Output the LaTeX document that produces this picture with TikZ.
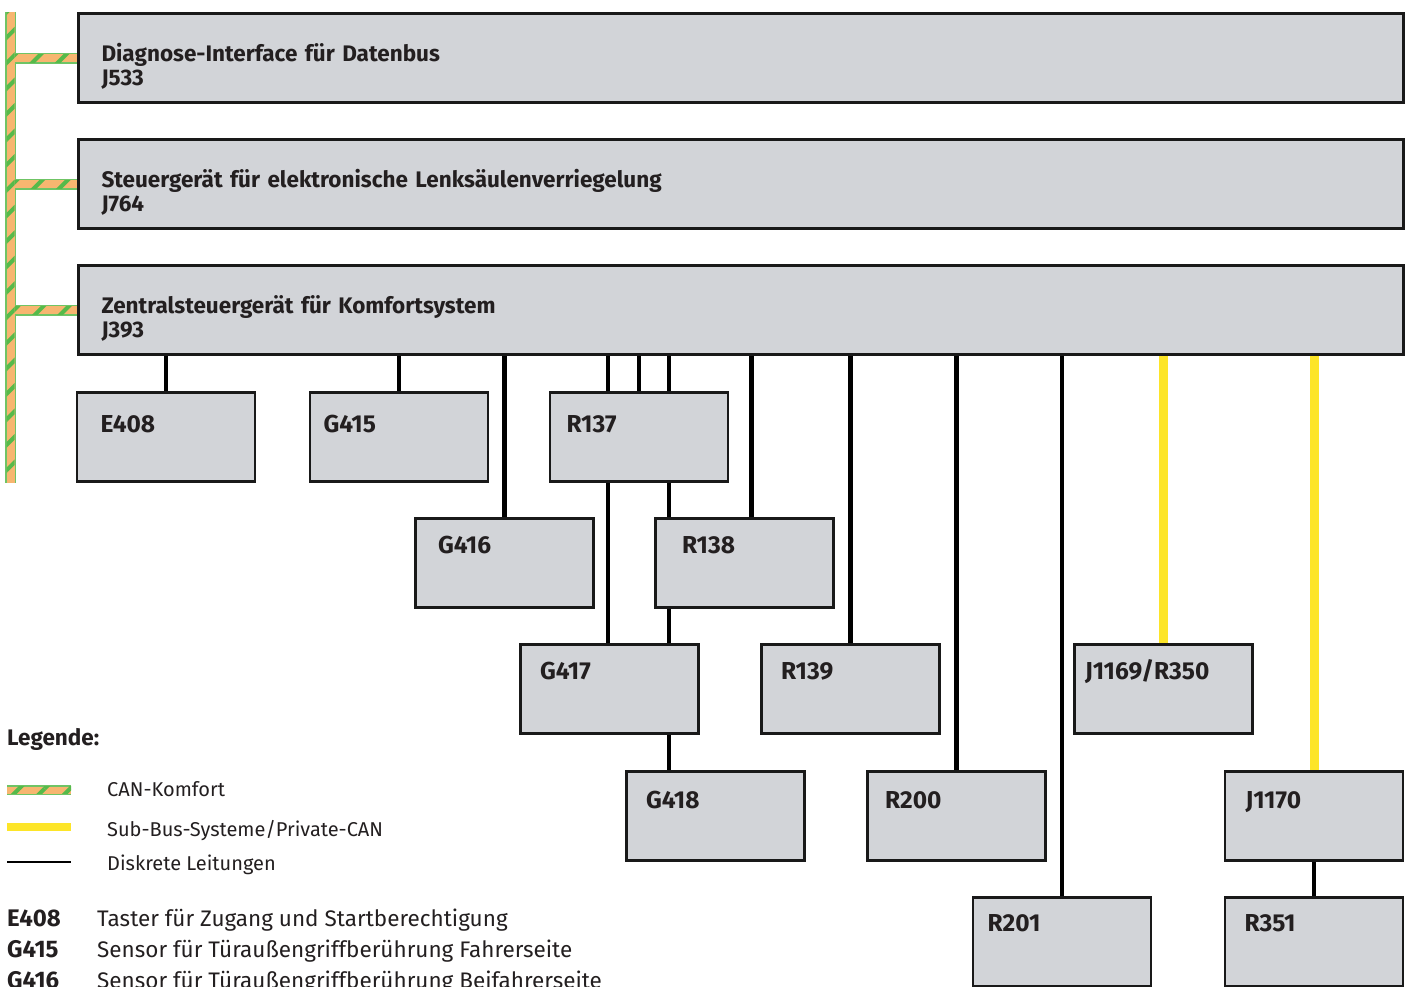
\documentclass[tikz,border=0pt]{standalone}
\usepackage{fontspec}
\setmainfont{Fira Sans}
\usetikzlibrary{calc,backgrounds,patterns.meta}

\definecolor{boxgrau}{RGB}{210,212,216}
\definecolor{schrift}{RGB}{35,31,32}
\definecolor{canorange}{RGB}{247,182,112}
\definecolor{cangruen}{RGB}{86,186,74}
\definecolor{subgelb}{RGB}{253,229,40}

\tikzset{
  kasten/.style={draw=black!90, line width=2.5pt, fill=boxgrau, text=schrift,
    align=left, inner sep=0pt},
  % #1 = Textbreite (Einzug links), #2 = Texthoehe (Abstand oben)
  sg/.style 2 args={kasten, font=\fontsize{24.5}{26}\selectfont\bfseries,
    minimum width=178pt, minimum height=89pt,
    text width=#1pt, text height=#2pt, text depth=40pt},
  sgbreit/.style={kasten, font=\fontsize{22.5}{24}\selectfont\bfseries,
    inner xsep=23pt, text width=1279pt, text height=47.5pt, text depth=41.5pt},
  leitung/.style={line width=4.5pt, draw=black},
  subbus/.style={line width=9pt, draw=subgelb},
  canrand/.style={line width=11pt, draw=cangruen!85},
  cankern/.style={line width=8pt, draw=canorange},
  canstreifen/.style={pattern={Lines[angle=45,distance=18pt,line width=4pt]},
    pattern color=cangruen},
  legtext/.style={anchor=base west, inner sep=0pt, text=schrift,
    font=\fontsize{20}{24}\selectfont},
  legkurz/.style={legtext, font=\fontsize{24}{26}\selectfont\bfseries},
}

\begin{document}
\begin{tikzpicture}[x=1pt,y=-1pt]
\useasboundingbox (0,0) rectangle (1413,986);
\clip (0,0) rectangle (1413,986);

% Steuergeraete am CAN-Komfort
\node[sgbreit] (J533) at (741,58) {Diagnose-Interface für Datenbus\\J533};
\node[sgbreit] (J764) at (741,184) {Steuergerät für elektronische Lenksäulenverriegelung\\J764};
\node[sgbreit] (J393) at (741,310) {Zentralsteuergerät für Komfortsystem\\J393};

% Teilnehmer am J393
\node[sg={131}{31.5}] (E408) at (166,437) {E408};
\node[sg={151}{31.5}] (G415) at (399,437) {G415};
\node[sg={145}{31.5}] (R137) at (639,437) {R137};
\node[sg={133}{21.5}] (G416) at (504.5,563) {G416};
\node[sg={125}{21.5}] (R138) at (744.5,563) {R138};
\node[sg={139}{21.5}] (G417) at (609.5,689) {G417};
\node[sg={139}{21.5}] (R139) at (850.5,689) {R139};
\node[sg={157}{21.5}] (J1169) at (1163.5,689) {J1169/R350};
\node[sg={139}{25.5}] (G418) at (715.5,816) {G418};
\node[sg={143}{25.5}] (R200) at (956.5,816) {R200};
\node[sg={137}{25.5}] (J1170) at (1314,816) {J1170};
\node[sg={149}{19.5}] (R201) at (1062,942) {R201};
\node[sg={139}{18}] (R351) at (1314,942) {R351};

\begin{pgfonlayer}{background}
% CAN-Komfort
\coordinate (bus oben) at (10.5,12);
\coordinate (bus unten) at (10.5,483);
\draw[canrand] (bus oben) -- (bus unten);
\foreach \n in {J533,J764,J393}{
  \draw[canrand] (\n.west -| bus oben) -- (\n.west);}
\draw[cankern] (bus oben) -- (bus unten);
\foreach \n in {J533,J764,J393}{
  \draw[cankern] (\n.west -| bus oben) -- (\n.west);}
\fill[canstreifen] ($(bus oben)+(-4,0)$) rectangle ($(bus unten)+(4,0)$);
\foreach \n in {J533,J764,J393}{
  \fill[canstreifen] ($(\n.west -| bus oben)+(4,-4)$) rectangle ($(\n.west)+(0,4)$);}

% diskrete Leitungen
\draw[leitung] (J393.south -| E408) -- (E408.north);
\draw[leitung] (J393.south -| G415) -- (G415.north);
\draw[leitung] (J393.south -| G416) -- (G416.north);
\foreach \dx in {-31,0,30}{
  \draw[leitung] ($(J393.south -| R137)+(\dx,0)$) -- ($(R137.north)+(\dx,0)$);}
\draw[leitung] ($(J393.south -| R138)+(7,0)$) -- ($(R138.north)+(7,0)$);
\coordinate (k1) at ($(R137.south)+(-31,0)$);
\coordinate (k2) at ($(R137.south)+(30,0)$);
\draw[leitung] (k1) -- (G417.north -| k1);
\draw[leitung] (k2) -- (R138.north -| k2);
\draw[leitung] (R138.south -| k2) -- (G417.north -| k2);
\draw[leitung] (G417.south -| k2) -- (G418.north -| k2);
\draw[leitung] (J393.south -| R139) -- (R139.north);
\draw[leitung] (J393.south -| R200) -- (R200.north);
\draw[leitung] (J393.south -| R201) -- (R201.north);
\draw[leitung] (J1170.south) -- (R351.north);

% Sub-Bus
\draw[subbus] (J393.south -| J1169) -- (J1169.north);
\draw[subbus] (J393.south -| J1170) -- (J1170.north);
\end{pgfonlayer}

% Legende
\node[legkurz, font=\fontsize{22.5}{24}\selectfont\bfseries] (leg) at (7,745) {Legende:};
\coordinate (can a) at (7,790);
\coordinate (can b) at (71,790);
\draw[canrand, line width=10pt] (can a) -- (can b);
\draw[cankern, line width=7pt] (can a) -- (can b);
\fill[canstreifen] ($(can a)+(0,-3.5)$) rectangle ($(can b)+(0,3.5)$);
\node[legtext] (lcan) at (107,796) {CAN-Komfort};
\coordinate (sub a) at (7,827);
\coordinate (sub b) at (71,827);
\draw[subbus, line width=8pt] (sub a) -- (sub b);
\node[legtext] (lsub) at (107,836) {Sub-Bus-Systeme/Private-CAN};
\coordinate (dis a) at (7,862);
\coordinate (dis b) at (71,862);
\draw[leitung, line width=2.5pt] (dis a) -- (dis b);
\node[legtext] (ldis) at (107,870) {Diskrete Leitungen};

\foreach \kurz/\lang [count=\i] in {E408/Taster für Zugang und Startberechtigung,
  G415/Sensor für Türaußengriffberührung Fahrerseite,
  G416/Sensor für Türaußengriffberührung Beifahrerseite}{
  \node[legkurz] (k\kurz) at (7,{895+31*\i}) {\kurz};
  \node[legtext, font=\fontsize{22.5}{24}\selectfont] (t\kurz) at (97,{895+31*\i}) {\lang};
}
\end{tikzpicture}
\end{document}
